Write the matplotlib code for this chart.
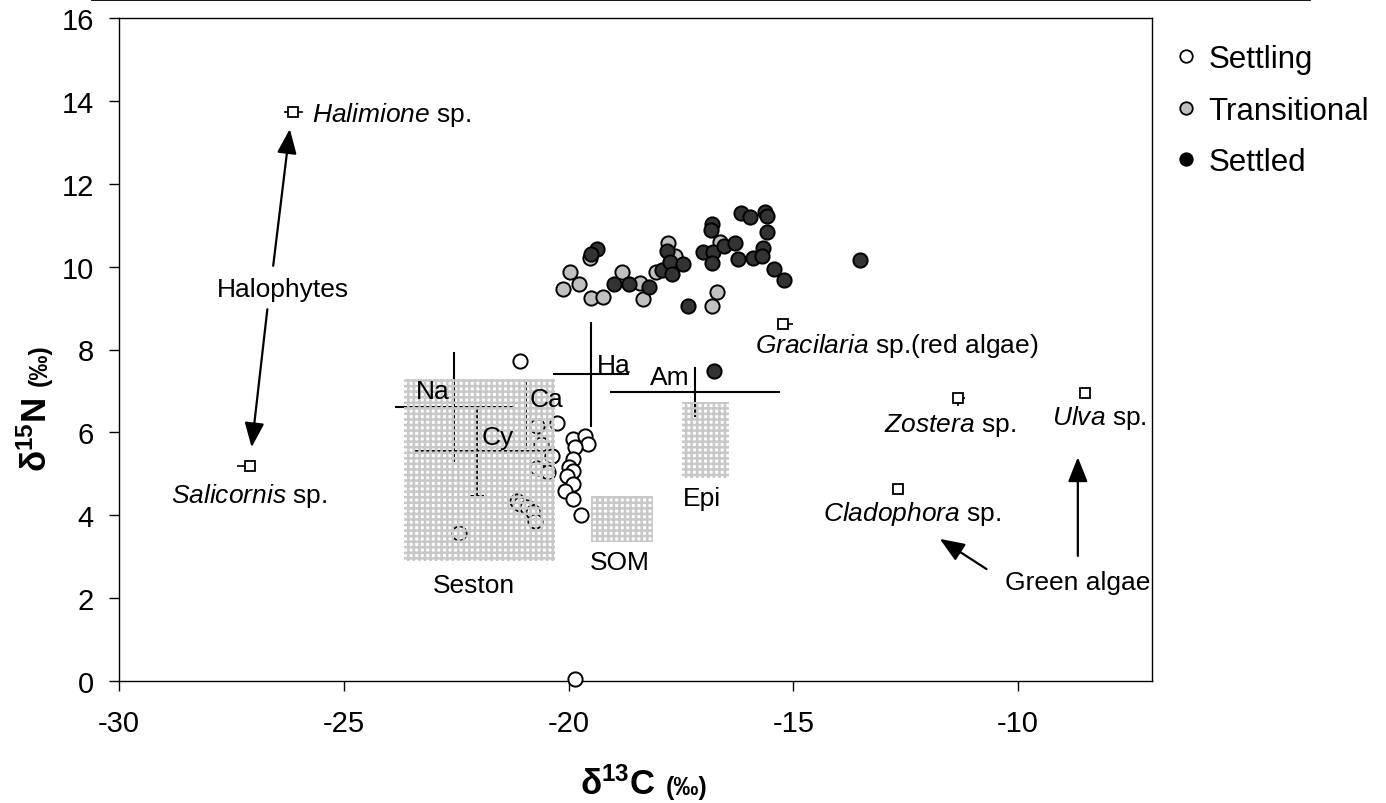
import matplotlib
matplotlib.use("Agg")
import matplotlib.pyplot as plt
from matplotlib.lines import Line2D
from matplotlib.patches import Rectangle

plt.rcParams["font.family"] = ["Liberation Sans", "DejaVu Sans"]
plt.rcParams["mathtext.fontset"] = "custom"
plt.rcParams["mathtext.rm"] = "Liberation Sans"
plt.rcParams["mathtext.it"] = "Liberation Sans:italic"
plt.rcParams["mathtext.bf"] = "Liberation Sans:bold"
plt.rcParams["axes.unicode_minus"] = False
plt.rcParams["hatch.linewidth"] = 1.8
plt.rcParams["hatch.color"] = "#c8c8c8"

# ---- juvenile stages: d13C / d15N ----
settling_c = [-21.09, -20.26, -19.89, -19.63, -19.56, -19.86, -19.89, -20.00, -19.89,
              -20.04, -19.89, -20.08, -19.89, -19.72, -19.86, -20.71, -20.61, -20.37,
              -20.71, -20.46, -21.15, -21.08, -20.93, -20.78, -20.75, -22.44]
settling_n = [7.73, 6.22, 5.84, 5.92, 5.72, 5.64, 5.36, 5.16, 5.07,
              4.95, 4.75, 4.59, 4.39, 4.00, 0.05, 6.16, 5.73, 5.44,
              5.13, 5.05, 4.35, 4.27, 4.21, 4.08, 3.87, 3.57]

transitional_c = [-20.12, -19.97, -19.76, -19.51, -19.52, -19.23, -18.82, -18.41,
                  -18.34, -18.05, -17.79, -17.63, -16.70, -16.80, -16.63]
transitional_n = [9.46, 9.87, 9.58, 9.24, 10.20, 9.27, 9.87, 9.60,
                  9.22, 9.86, 10.58, 10.26, 9.39, 9.05, 10.60]

settled_c = [-19.37, -19.49, -18.98, -18.65, -18.20, -17.93, -17.82, -17.74, -17.69,
             -17.45, -17.35, -16.81, -16.84, -17.01, -16.79, -16.81, -16.54, -16.30,
             -16.22, -16.17, -15.96, -15.64, -15.59, -15.59, -15.68, -15.89, -15.69,
             -15.44, -15.20, -13.51, -16.76]
settled_n = [10.42, 10.30, 9.58, 9.58, 9.52, 9.92, 10.38, 10.12, 9.82,
             10.06, 9.05, 11.03, 10.89, 10.36, 10.36, 10.08, 10.50, 10.58,
             10.18, 11.29, 11.19, 11.31, 11.23, 10.84, 10.44, 10.20, 10.25,
             9.94, 9.67, 10.16, 7.49]

# ---- prey / potential food: mean +- SD ----
prey_names = ["Na", "Cy", "Ca", "Ha", "Am"]
prey_c = [-22.55, -22.04, -20.95, -19.50, -17.19]
prey_n = [6.62, 5.54, 6.44, 7.40, 6.97]
prey_c_sd = [1.31, 1.41, 0.28, 0.85, 1.89]
prey_n_sd = [1.33, 1.08, 0.85, 1.27, 0.60]

# ---- organic matter pools: ranges ----
pool_names = ["Seston", "SOM", "Epi"]
pool_c_min = [-23.66, -19.50, -17.48]
pool_c_max = [-20.29, -18.13, -16.43]
pool_n_min = [2.90, 3.36, 4.89]
pool_n_max = [7.29, 4.47, 6.74]

# ---- primary producers ----
plant_names = ["Halimione", "Salicornis", "Gracilaria", "Zostera", "Ulva", "Cladophora"]
plant_c = [-26.12, -27.09, -15.22, -11.33, -8.51, -12.66]
plant_n = [13.74, 5.19, 8.61, 6.84, 6.94, 4.63]
plant_c_err_lo = [0.21, 0.28, 0.00, 0.00, 0.00, 0.00]
plant_c_err_hi = [0.21, 0.00, 0.22, 0.16, 0.00, 0.00]
plant_n_err_lo = [0.14, 0.00, 0.00, 0.20, 0.12, 0.00]
plant_n_err_hi = [0.14, 0.00, 0.00, 0.00, 0.00, 0.00]

legend_labels = ["Settling", "Transitional", "Settled"]

W, H = 1386, 804
fig = plt.figure(figsize=(W / 100, H / 100), dpi=100)
ax = fig.add_axes([119 / W, (H - 682) / H, (1152 - 119) / W, (682 - 19) / H])
ax.set_xlim(-30, -7.02)
ax.set_ylim(0, 16)
ax.set_xticks([-30, -25, -20, -15, -10])
ax.set_yticks(range(0, 17, 2))
ax.tick_params(direction="out", length=7, width=1.0, labelsize=21, color="black")
ax.tick_params(axis="x", pad=13)
ax.tick_params(axis="y", pad=11)
for sp in ax.spines.values():
    sp.set_linewidth(1.0)
    sp.set_color("black")

# juvenile stages
mk = dict(s=105, linewidths=1.4, edgecolors="black", clip_on=False)
ax.scatter(settling_c, settling_n, facecolors="white", zorder=4, **mk)
ax.scatter(transitional_c, transitional_n, facecolors="#c0c0c0", zorder=4.1, **mk)
ax.scatter(settled_c, settled_n, facecolors="#333333", zorder=4.2, **mk)

# prey crosses
for name, x, y, xs, ys in zip(prey_names, prey_c, prey_n, prey_c_sd, prey_n_sd):
    ax.errorbar(x, y, xerr=xs, fmt="none", ecolor="black", elinewidth=1.5, capsize=0, zorder=3)
    ax.errorbar(x, y, yerr=ys, fmt="none", ecolor="black", elinewidth=1.5,
                capsize=5 if name == "Cy" else 0, capthick=1.5, zorder=3)

# organic matter pools (patterned, drawn over the points)
for c0, c1, n0, n1 in zip(pool_c_min, pool_c_max, pool_n_min, pool_n_max):
    ax.add_patch(Rectangle((c0, n0), c1 - c0, n1 - n0, facecolor="none",
                           edgecolor="#c8c8c8", linewidth=0, hatch="+++", zorder=6))

# primary producers
for i in range(len(plant_names)):
    ax.errorbar(plant_c[i], plant_n[i],
                xerr=[[plant_c_err_lo[i]], [plant_c_err_hi[i]]],
                yerr=[[plant_n_err_lo[i]], [plant_n_err_hi[i]]],
                fmt="s", ms=7, mfc="white", mec="black", mew=1.3,
                ecolor="black", elinewidth=1.2, capsize=0, zorder=7)

fs = 19
# prey labels
ax.text(-23.03, 6.84, "Na", fontsize=fs, ha="center", va="baseline", zorder=8)
ax.text(-21.58, 5.72, "Cy", fontsize=fs, ha="center", va="baseline", zorder=8)
ax.text(-20.48, 6.64, "Ca", fontsize=fs, ha="center", va="baseline", zorder=8)
ax.text(-19.00, 7.45, "Ha", fontsize=fs, ha="center", va="baseline", zorder=8)
ax.text(-17.74, 7.17, "Am", fontsize=fs, ha="center", va="baseline", zorder=8)
# pool labels
ax.text(-22.10, 2.15, "Seston", fontsize=fs, ha="center", va="baseline")
ax.text(-18.87, 2.70, "SOM", fontsize=fs, ha="center", va="baseline")
ax.text(-17.03, 4.25, "Epi", fontsize=fs, ha="center", va="baseline")
# producer labels
ax.text(-25.71, 13.51, r"$\mathit{Halimione}$ sp.", fontsize=fs, ha="left", va="baseline")
ax.text(-27.10, 4.32, r"$\mathit{Salicornis}$ sp.", fontsize=fs, ha="center", va="baseline")
ax.text(-15.85, 7.93, r"$\mathit{Gracilaria}$ sp.(red algae)", fontsize=fs, ha="left", va="baseline")
ax.text(-11.51, 6.04, r"$\mathit{Zostera}$ sp.", fontsize=fs, ha="center", va="baseline")
ax.text(-8.18, 6.20, r"$\mathit{Ulva}$ sp.", fontsize=fs, ha="center", va="baseline", clip_on=False)
ax.text(-12.36, 3.89, r"$\mathit{Cladophora}$ sp.", fontsize=fs, ha="center", va="baseline")
ax.text(-26.35, 9.30, "Halophytes", fontsize=fs, ha="center", va="baseline")
ax.text(-8.67, 2.22, "Green algae", fontsize=fs, ha="center", va="baseline", clip_on=False)

arrow = dict(arrowstyle="-|>,head_length=0.75,head_width=0.3", color="black",
             lw=1.6, shrinkA=0, shrinkB=0, mutation_scale=20)
ax.annotate("", xy=(-26.20, 13.32), xytext=(-26.57, 10.02), arrowprops=arrow)
ax.annotate("", xy=(-27.05, 5.64), xytext=(-26.70, 8.97), arrowprops=arrow)
ax.annotate("", xy=(-11.74, 3.43), xytext=(-10.70, 2.70), arrowprops=arrow)
ax.annotate("", xy=(-8.67, 5.40), xytext=(-8.67, 3.02), arrowprops=arrow)

# axis titles
fig.text(580 / W, 1 - 795 / H, r"δ$^{\mathbf{13}}$C", fontsize=25, fontweight="bold",
         ha="left", va="baseline")
fig.text(666 / W, 1 - 795 / H, "(‰)", fontsize=18, fontweight="bold",
         ha="left", va="baseline")
fig.text(47 / W, 1 - 472 / H, r"δ$^{\mathbf{15}}$N", fontsize=25, fontweight="bold",
         ha="left", va="baseline", rotation=90, rotation_mode="anchor")
fig.text(47 / W, 1 - 386 / H, "(‰)", fontsize=18, fontweight="bold",
         ha="left", va="baseline", rotation=90, rotation_mode="anchor")

# legend
handles = [
    Line2D([], [], ls="none", marker="o", ms=9, mfc="white", mec="black", mew=1.3),
    Line2D([], [], ls="none", marker="o", ms=9, mfc="#c0c0c0", mec="black", mew=1.3),
    Line2D([], [], ls="none", marker="o", ms=9, mfc="black", mec="black", mew=1.3),
]
fig.legend(handles, legend_labels, loc="upper left",
           bbox_to_anchor=(1177 / W, 1 - 45 / H), frameon=False, fontsize=22.5,
           handlelength=0.6, handletextpad=0.4, labelspacing=0.69,
           borderpad=0, borderaxespad=0)

# outer frame edge at the top
fig.add_artist(Line2D([92 / W, 1310 / W], [1 - 0.7 / H, 1 - 0.7 / H],
                      color="black", lw=1.3, transform=fig.transFigure))

fig.savefig("out.png", dpi=100)
